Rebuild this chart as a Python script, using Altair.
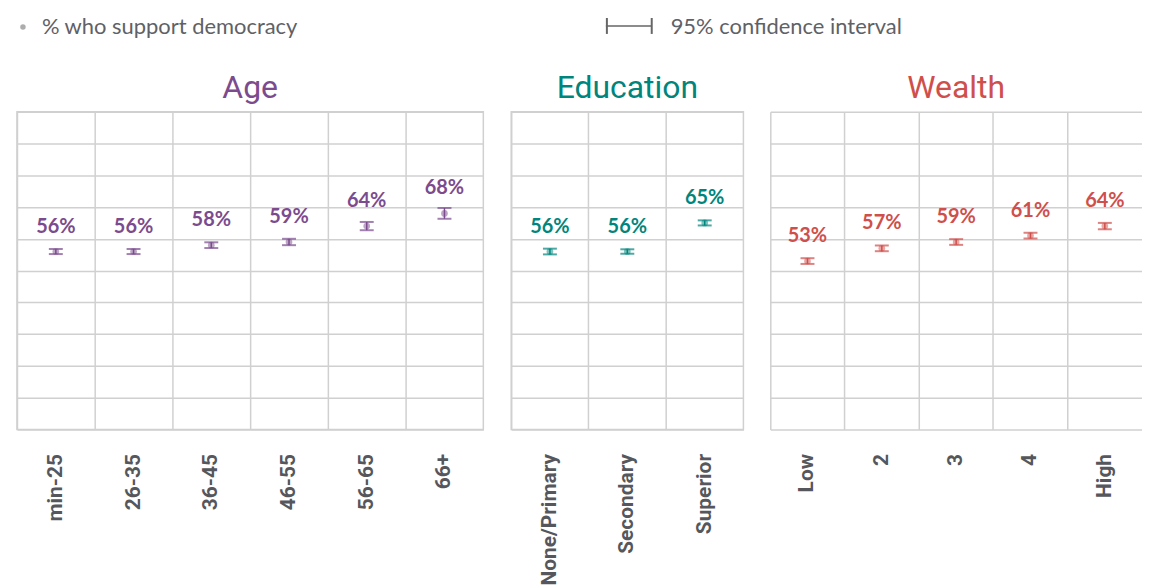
import altair as alt
import pandas as pd

# ---- data ----
age_cats = ["min-25", "26-35", "36-45", "46-55", "56-65", "66+"]
age_vals = [56, 56, 58, 59, 64, 68]
age_ci = [0.8, 0.8, 0.9, 1.0, 1.3, 1.7]

edu_cats = ["None/Primary", "Secondary", "Superior"]
edu_vals = [56, 56, 65]
edu_ci = [0.9, 0.7, 0.8]

wealth_cats = ["Low", "2", "3", "4", "High"]
wealth_vals = [53, 57, 59, 61, 64]
wealth_ci = [0.9, 0.9, 0.9, 0.9, 1.0]

legend_point = "% who support democracy"
legend_ci = "95% confidence interval"

GRID = "#d0d0d0"
LABEL = "#55575c"


def panel(title, cats, vals, cis, color, width, stroke=True):
    df = pd.DataFrame({
        "cat": cats,
        "val": vals,
        "lo": [v - c for v, c in zip(vals, cis)],
        "hi": [v + c for v, c in zip(vals, cis)],
        "label": [f"{v}%" for v in vals],
    })
    x = alt.X("cat:N", sort=cats,
              scale=alt.Scale(domain=cats, paddingInner=0, paddingOuter=0),
              axis=alt.Axis(title=None, labelAngle=-90, labelFont="Roboto",
                            labelFontSize=21, labelFontWeight="bold",
                            labelColor=LABEL, labelPadding=24, ticks=False,
                            domain=False, grid=True, gridColor=GRID,
                            gridWidth=1.5, bandPosition=0))
    yscale = alt.Scale(domain=[0, 100])
    yaxis = alt.Axis(title=None, labels=False, ticks=False, domain=False,
                     values=list(range(0, 101, 10)), grid=True,
                     gridColor=GRID, gridWidth=1.5)
    base = alt.Chart(df)
    rule = base.mark_rule(color=color, strokeWidth=1.5).encode(
        x=x, y=alt.Y("lo:Q", scale=yscale, axis=yaxis), y2="hi:Q")
    tlo = base.mark_tick(color=color, size=14, thickness=2).encode(
        x=x, y=alt.Y("lo:Q", scale=yscale, axis=yaxis))
    thi = base.mark_tick(color=color, size=14, thickness=2).encode(
        x=x, y=alt.Y("hi:Q", scale=yscale, axis=yaxis))
    pt = base.mark_circle(color=color, size=45, opacity=0.5).encode(
        x=x, y=alt.Y("val:Q", scale=yscale, axis=yaxis))
    txt = base.mark_text(color=color, font="Lato", fontSize=20,
                         fontWeight="bold", baseline="bottom", dy=-15).encode(
        x=x, y=alt.Y("val:Q", scale=yscale, axis=yaxis), text="label:N")
    props = dict(width=width, height=319,
                 title=alt.TitleParams(text=title, color=color, fontSize=32,
                                       font="Roboto", fontWeight="normal",
                                       anchor="middle", offset=7))
    if not stroke:
        props["view"] = alt.ViewBackground(stroke=None)
    return alt.layer(rule, tlo, thi, pt, txt).properties(**props)


one = pd.DataFrame({"k": [0]})
lg = alt.Chart(one)
header = alt.layer(
    lg.mark_circle(color="#8a8a8a", size=30).encode(
        x=alt.value(6), y=alt.value(10)),
    lg.mark_text(align="left", baseline="middle", font="Lato", fontSize=22,
                 color="#606166").encode(
        x=alt.value(25), y=alt.value(10), text=alt.value(legend_point)),
    lg.mark_rule(color="#666666", strokeWidth=1.5).encode(
        x=alt.value(591), x2=alt.value(637), y=alt.value(9)),
    lg.mark_rule(color="#666666", strokeWidth=2).encode(
        x=alt.value(592), y=alt.value(1), y2=alt.value(17)),
    lg.mark_rule(color="#666666", strokeWidth=2).encode(
        x=alt.value(637), y=alt.value(1), y2=alt.value(17)),
    lg.mark_text(align="left", baseline="middle", font="Lato", fontSize=22,
                 color="#606166").encode(
        x=alt.value(656), y=alt.value(10), text=alt.value(legend_ci)),
).properties(width=1100, height=20, view=alt.ViewBackground(stroke=None))

age = panel("Age", age_cats, age_vals, age_ci, "#7b4b8e", 468)
edu = panel("Education", edu_cats, edu_vals, edu_ci, "#00857d", 233)
wealth = panel("Wealth", wealth_cats, wealth_vals, wealth_ci,
               "#cf4f4b", 373, stroke=False)

row = alt.hconcat(age, edu, wealth, spacing=26)

chart = alt.vconcat(header, row, spacing=33).properties(
    padding={"left": 8, "top": 7, "right": 0, "bottom": 0}
).configure_view(stroke=GRID, strokeWidth=1.5)

chart.save("out.html", embed_options={"renderer": "svg", "actions": False})
